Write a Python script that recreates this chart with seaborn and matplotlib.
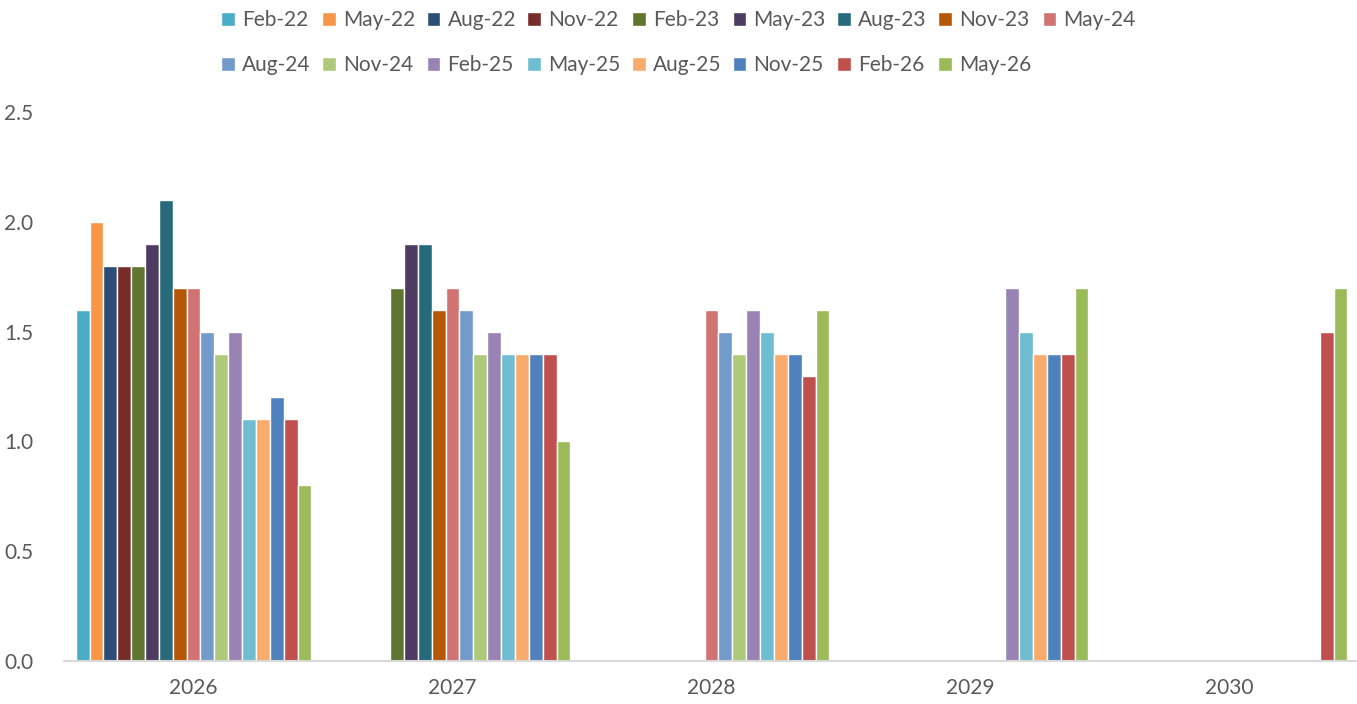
import numpy as np
import pandas as pd
import matplotlib.pyplot as plt
import seaborn as sns

# forecast vintages (legend) and target years (x axis)
vintages = ["Feb-22", "May-22", "Aug-22", "Nov-22", "Feb-23", "May-23", "Aug-23", "Nov-23",
            "May-24", "Aug-24", "Nov-24", "Feb-25", "May-25", "Aug-25", "Nov-25", "Feb-26", "May-26"]
years = ["2026", "2027", "2028", "2029", "2030"]

nan = np.nan
y2026 = [1.6, 2.0, 1.8, 1.8, 1.8, 1.9, 2.1, 1.7, 1.7, 1.5, 1.4, 1.5, 1.1, 1.1, 1.2, 1.1, 0.8]
y2027 = [nan, nan, nan, nan, 1.7, 1.9, 1.9, 1.6, 1.7, 1.6, 1.4, 1.5, 1.4, 1.4, 1.4, 1.4, 1.0]
y2028 = [nan, nan, nan, nan, nan, nan, nan, nan, 1.6, 1.5, 1.4, 1.6, 1.5, 1.4, 1.4, 1.3, 1.6]
y2029 = [nan, nan, nan, nan, nan, nan, nan, nan, nan, nan, nan, 1.7, 1.5, 1.4, 1.4, 1.4, 1.7]
y2030 = [nan, nan, nan, nan, nan, nan, nan, nan, nan, nan, nan, nan, nan, nan, nan, 1.5, 1.7]

colors = ["#4BACC6", "#F79646", "#2C4D75", "#772C2A", "#5F7530", "#4D3B62", "#276A7C", "#B65708",
          "#D07372", "#729ACA", "#AFC97A", "#9983B5", "#6FBDD1", "#F9AB6B", "#4F81BD", "#C0504D", "#9BBB59"]

rows = []
for year, vals in zip(years, [y2026, y2027, y2028, y2029, y2030]):
    for v, val in zip(vintages, vals):
        if not np.isnan(val):
            rows.append({"year": year, "vintage": v, "value": val})
df = pd.DataFrame(rows)

sns.set_style("white")
plt.rcParams["font.family"] = ["Lato", "DejaVu Sans"]
text_color = "#595959"

fig = plt.figure(figsize=(13.57, 7.04), dpi=100)
ax = fig.add_axes([0.0472, 0.061, 0.9543, 0.78])

sns.barplot(data=df, x="year", y="value", hue="vintage", order=years, hue_order=vintages,
            palette=colors, saturation=1, width=0.91, edgecolor="white", linewidth=1.0,
            errorbar=None, ax=ax, legend=True)

ax.set_xlim(-0.5, 4.5)
ax.set_ylim(0, 2.5)
ax.set_yticks([0, 0.5, 1.0, 1.5, 2.0, 2.5])
ax.set_yticklabels(["0.0", "0.5", "1.0", "1.5", "2.0", "2.5"])
ax.set_xlabel("")
ax.set_ylabel("")
ax.tick_params(axis="both", length=0, labelsize=15, colors=text_color)
ax.tick_params(axis="x", pad=12)
ax.tick_params(axis="y", pad=22)
for side in ["left", "right", "top"]:
    ax.spines[side].set_visible(False)
ax.spines["bottom"].set_color("#D9D9D9")
ax.spines["bottom"].set_linewidth(1.5)

# legend: 9 on first row, 8 on second, row-major
handles, labels = ax.get_legend_handles_labels()
ax.get_legend().remove()
order = []
for i in range(9):
    order.append(i)
    if i + 9 < len(handles):
        order.append(i + 9)
leg = fig.legend([handles[i] for i in order], [labels[i] for i in order],
                 loc="upper center", bbox_to_anchor=(0.5, 1.012), ncol=9, frameon=False,
                 fontsize=15, handlelength=0.65, handleheight=0.65, handletextpad=0.35,
                 columnspacing=0.55, labelspacing=1.2, labelcolor=text_color)

fig.savefig("out.png", dpi=100)
